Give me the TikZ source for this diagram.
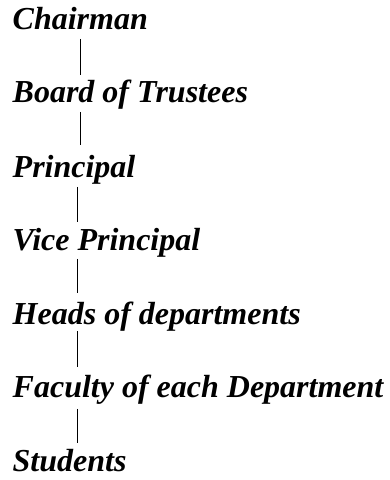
\documentclass[tikz,border=0pt]{standalone}
\usepackage{fontspec}
\setmainfont{Liberation Serif}
\usetikzlibrary{calc}
\begin{document}
\begin{tikzpicture}[x=1pt,y=1pt,
  role/.style={anchor=base west,inner sep=0pt,font=\fontsize{32}{36}\selectfont\bfseries\itshape},
  link/.style={draw=black,line width=1.5pt}]
\useasboundingbox (0,0) rectangle (389,480);
\node[role] (n1) at (12.5,{480-30}) {Chairman};
\node[role] (n2) at (12.5,{480-103}) {Board of Trustees};
\node[role] (n3) at (12.5,{480-178}) {Principal};
\node[role] (n4) at (12.5,{480-251}) {Vice Principal};
\node[role] (n5) at (12.5,{480-324.5}) {Heads of departments};
\node[role] (n6) at (12.5,{480-398}) {Faculty of each Department};
\node[role] (n7) at (12.5,{480-471.5}) {Students};
\draw[link] ($(n1.base west)+(68,-9)$) -- ($(n2.base west)+(68,28)$);
\draw[link] ($(n2.base west)+(68,-9)$) -- ($(n3.base west)+(68,33)$);
\draw[link] ($(n3.base west)+(65,-9)$) -- ($(n4.base west)+(65,29)$);
\draw[link] ($(n4.base west)+(65,-8)$) -- ($(n5.base west)+(65,31)$);
\draw[link] ($(n5.base west)+(65,-7)$) -- ($(n6.base west)+(65,31)$);
\draw[link] ($(n6.base west)+(65,-11)$) -- ($(n7.base west)+(65,28)$);
\end{tikzpicture}
\end{document}
